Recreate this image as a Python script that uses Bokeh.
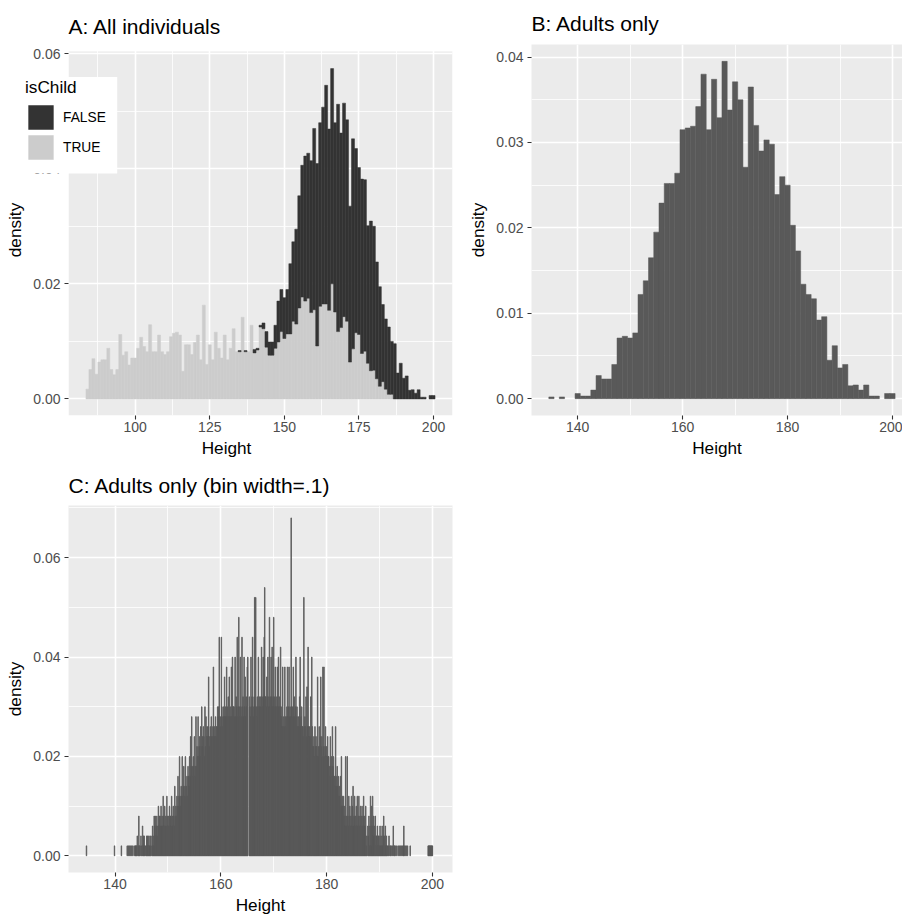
from bokeh.plotting import figure
from bokeh.models import (Range1d, FixedTicker, PrintfTickFormatter, Legend, LegendItem,
                          ColumnDataSource, BoxAnnotation)
from bokeh.layouts import column, row
from bokeh.embed import file_html
from bokeh.resources import INLINE

# ---------------- data ----------------
# Panel A / B : bin width 1 cm, bins centred on whole centimetres
child_heights = list(range(84, 187))
child_density = [
    0.0017, 0.0051, 0.0070, 0.0043, 0.0064, 0.0068, 0.0068, 0.0088, 0.0051, 0.0042,   # 84-93
    0.0051, 0.0112, 0.0076, 0.0082, 0.0059, 0.0071, 0.0071, 0.0088, 0.0107, 0.0091,   # 94-103
    0.0082, 0.0129, 0.0082, 0.0082, 0.0111, 0.0082, 0.0077, 0.0082, 0.0108, 0.0114,   # 104-113
    0.0116, 0.0111, 0.0048, 0.0094, 0.0094, 0.0077, 0.0098, 0.0111, 0.0068, 0.0163,   # 114-123
    0.0060, 0.0094, 0.0068, 0.0116, 0.0088, 0.0071, 0.0111, 0.0068, 0.0088, 0.0122,   # 124-133
    0.0082, 0.0082, 0.0142, 0.0082, 0.0082, 0.0128, 0.0080, 0.0085, 0.0125, 0.0122,   # 134-143
    0.0090, 0.0076, 0.0076, 0.0088, 0.0099, 0.0117, 0.0105, 0.0113, 0.0113, 0.0135,   # 144-153
    0.0130, 0.0158, 0.0177, 0.0170, 0.0175, 0.0150, 0.0155, 0.0092, 0.0161, 0.0165,   # 154-163
    0.0165, 0.0154, 0.0200, 0.0151, 0.0117, 0.0124, 0.0143, 0.0135, 0.0064, 0.0087,   # 164-173
    0.0115, 0.0112, 0.0079, 0.0083, 0.0062, 0.0049, 0.0050, 0.0035, 0.0022, 0.0030,   # 174-183
    0.0017, 0.0008, 0.0008,                                                           # 184-186
]
adult_heights = list(range(135, 201))
adult_density = [
    0.0002, 0.0000, 0.0002, 0.0000, 0.0000, 0.0006, 0.0003, 0.0003, 0.0010, 0.0027,   # 135-144
    0.0023, 0.0023, 0.0040, 0.0071, 0.0073, 0.0071, 0.0077, 0.0122, 0.0138, 0.0165,   # 145-154
    0.0195, 0.0229, 0.0252, 0.0252, 0.0264, 0.0315, 0.0317, 0.0319, 0.0342, 0.0380,   # 155-164
    0.0315, 0.0374, 0.0329, 0.0395, 0.0338, 0.0371, 0.0350, 0.0271, 0.0365, 0.0320,   # 165-174
    0.0290, 0.0303, 0.0298, 0.0239, 0.0260, 0.0250, 0.0203, 0.0173, 0.0134, 0.0122,   # 175-184
    0.0117, 0.0092, 0.0096, 0.0045, 0.0062, 0.0036, 0.0040, 0.0015, 0.0016, 0.0010,   # 185-194
    0.0016, 0.0003, 0.0003, 0.0000, 0.0006, 0.0006,                                   # 195-200
]

# Panel C : bin width 0.1 cm; one row per centimetre (h-0.5 ... h+0.4), counts of adults
fine_first_centre = 134.5
fine_bin_width = 0.1
fine_density_per_count = 0.002
fine_counts_by_cm = [
    [0, 1, 0, 0, 0, 0, 0, 0, 0, 0],            # 135
    [0, 0, 0, 0, 0, 0, 0, 0, 0, 0],            # 136
    [0, 0, 0, 0, 0, 0, 0, 0, 0, 0],            # 137
    [0, 0, 0, 0, 0, 0, 0, 0, 0, 0],            # 138
    [0, 0, 0, 0, 0, 0, 0, 0, 0, 0],            # 139
    [0, 0, 0, 0, 1, 0, 0, 0, 0, 0],            # 140
    [0, 0, 0, 0, 0, 0, 0, 1, 0, 0],            # 141
    [0, 0, 0, 0, 0, 0, 0, 0, 1, 0],            # 142
    [1, 0, 1, 0, 1, 0, 1, 0, 1, 0],            # 143
    [0, 1, 0, 1, 1, 1, 1, 2, 0, 1],            # 144
    [4, 1, 1, 0, 2, 1, 0, 3, 1, 2],            # 145
    [2, 1, 0, 1, 1, 2, 2, 1, 2, 1],            # 146
    [1, 2, 1, 2, 0, 1, 3, 2, 1, 4],            # 147
    [3, 4, 2, 3, 4, 2, 3, 5, 3, 4],            # 148
    [4, 3, 5, 3, 4, 3, 6, 4, 3, 5],            # 149
    [3, 4, 3, 6, 4, 3, 4, 3, 5, 4],            # 150
    [4, 3, 6, 4, 3, 5, 4, 3, 7, 4],            # 151
    [5, 4, 6, 5, 8, 5, 6, 10, 6, 5],           # 152
    [7, 6, 10, 6, 7, 9, 6, 7, 10, 6],          # 153
    [7, 8, 6, 9, 8, 7, 10, 8, 12, 9],          # 154
    [14, 9, 8, 10, 9, 12, 8, 9, 14, 9],        # 155
    [11, 10, 14, 10, 11, 12, 10, 13, 11, 15],  # 156
    [12, 11, 13, 12, 10, 15, 11, 14, 12, 13],  # 157
    [12, 13, 18, 12, 11, 13, 12, 14, 12, 12],  # 158
    [13, 19, 12, 13, 12, 14, 12, 13, 13, 15],  # 159
    [14, 15, 22, 14, 13, 14, 22, 15, 13, 14],  # 160
    [15, 14, 18, 14, 15, 14, 19, 15, 14, 16],  # 161
    [14, 18, 14, 15, 14, 19, 14, 20, 15, 15],  # 162
    [15, 14, 20, 14, 16, 15, 22, 14, 15, 24],  # 163
    [15, 14, 20, 15, 14, 22, 15, 16, 14, 20],  # 164
    [15, 18, 14, 16, 15, 19, 20, 0, 0, 16],    # 165
    [15, 14, 20, 15, 16, 22, 15, 14, 16, 26],  # 166
    [15, 26, 15, 14, 16, 15, 20, 15, 16, 15],  # 167
    [16, 15, 21, 16, 15, 20, 16, 22, 27, 16],  # 168
    [16, 15, 18, 16, 20, 15, 16, 24, 15, 16],  # 169
    [20, 16, 21, 15, 16, 24, 15, 16, 19, 15],  # 170
    [15, 16, 19, 15, 20, 15, 16, 15, 21, 15],  # 171
    [14, 13, 19, 13, 14, 13, 19, 14, 13, 14],  # 172
    [15, 19, 14, 15, 19, 14, 15, 14, 34, 15],  # 173
    [14, 15, 19, 14, 16, 14, 15, 20, 14, 15],  # 174
    [13, 14, 13, 14, 16, 20, 13, 14, 15, 13],  # 175
    [13, 12, 26, 13, 14, 13, 16, 12, 17, 13],  # 176
    [21, 13, 12, 13, 12, 16, 12, 20, 13, 11],  # 177
    [11, 12, 10, 13, 11, 12, 11, 10, 18, 10],  # 178
    [11, 13, 11, 12, 18, 11, 12, 10, 19, 11],  # 179
    [19, 10, 11, 13, 10, 11, 10, 12, 10, 10],  # 180
    [9, 8, 12, 9, 10, 8, 13, 9, 10, 8],        # 181
    [8, 7, 13, 8, 7, 9, 7, 8, 6, 7],           # 182
    [6, 8, 5, 10, 5, 6, 5, 6, 4, 5],           # 183
    [3, 10, 4, 3, 10, 4, 3, 6, 4, 5],          # 184
    [3, 4, 6, 3, 5, 7, 3, 4, 6, 3],            # 185
    [4, 5, 3, 6, 3, 4, 6, 3, 4, 5],            # 186
    [3, 4, 5, 3, 4, 6, 3, 4, 3, 5],            # 187
    [1, 2, 0, 3, 2, 4, 1, 3, 6, 1],            # 188
    [5, 3, 6, 2, 4, 3, 2, 4, 1, 2],            # 189
    [2, 3, 1, 2, 2, 1, 3, 1, 2, 1],            # 190
    [3, 1, 2, 4, 2, 1, 3, 1, 2, 1],            # 191
    [1, 0, 1, 2, 0, 1, 1, 0, 1, 0],            # 192
    [1, 3, 0, 1, 1, 0, 1, 0, 1, 0],            # 193
    [0, 1, 0, 1, 0, 1, 0, 1, 0, 1],            # 194
    [1, 3, 1, 0, 1, 0, 1, 0, 1, 0],            # 195
    [0, 0, 0, 1, 0, 0, 0, 0, 0, 0],            # 196
    [0, 0, 0, 0, 0, 0, 0, 0, 0, 0],            # 197
    [0, 0, 0, 0, 0, 0, 0, 0, 0, 0],            # 198
    [0, 0, 0, 0, 0, 0, 0, 1, 1, 1],            # 199
    [1, 1, 1, 1, 1, 1, 0, 0, 0, 0],            # 200
]

titles = ["A: All individuals", "B: Adults only", "C: Adults only (bin width=.1)"]
legend_title = "isChild"
legend_labels = ["FALSE", "TRUE"]
x_label = "Height"
y_label = "density"

# ---------------- styling ----------------
FONT = "Liberation Sans"
DARK = "#333333"
LIGHT = "#CCCCCC"
BAR = "#595959"
PANEL = "#EBEBEB"


def make_fig(w, h, xr, yr, left, right, top, bottom, bg=PANEL):
    p = figure(width=w, height=h, x_range=Range1d(*xr), y_range=Range1d(*yr),
               output_backend="svg", toolbar_location=None,
               min_border_left=left, min_border_right=right,
               min_border_top=top, min_border_bottom=bottom)
    p.background_fill_color = bg
    p.border_fill_color = "white"
    p.outline_line_color = None
    return p


def style_axes(p, title, xt, xm, yt, ym, title_offset=0, title_standoff=15):
    p.title.text = title
    p.title.text_font = FONT
    p.title.text_font_size = "21px"
    p.title.text_font_style = "normal"
    p.title.text_color = "black"
    p.title.align = "left"
    p.title.standoff = title_standoff
    p.title.offset = title_offset
    xtick = FixedTicker(ticks=xt, minor_ticks=xm)
    ytick = FixedTicker(ticks=yt, minor_ticks=ym)
    p.xaxis.ticker = xtick
    p.yaxis.ticker = ytick
    p.xgrid.ticker = xtick
    p.ygrid.ticker = ytick
    p.yaxis.formatter = PrintfTickFormatter(format="%.2f")
    for ax in (p.xaxis[0], p.yaxis[0]):
        ax.axis_line_color = None
        ax.major_tick_line_color = "#333333"
        ax.major_tick_line_width = 1.1
        ax.major_tick_out = 4
        ax.major_tick_in = 0
        ax.minor_tick_line_color = None
        ax.major_label_text_font = FONT
        ax.major_label_text_font_size = "14px"
        ax.major_label_text_color = "#4D4D4D"
        ax.axis_label_text_font = FONT
        ax.axis_label_text_font_size = "17.2px"
        ax.axis_label_text_font_style = "normal"
        ax.axis_label_text_color = "black"
    p.xaxis.axis_label = x_label
    p.yaxis.axis_label = y_label
    p.xaxis.major_label_standoff = 2
    p.xaxis.axis_label_standoff = 3
    p.yaxis.major_label_standoff = 4
    p.yaxis.axis_label_standoff = 5
    for g in (p.xgrid[0], p.ygrid[0]):
        g.grid_line_color = "white"
        g.grid_line_width = 1.6
        g.minor_grid_line_color = "white"
        g.minor_grid_line_width = 0.8


# ---------------- Panel A (stacked) ----------------
child_lookup = dict(zip(child_heights, child_density))
src_true = ColumnDataSource(dict(
    left=[hh - 0.5 for hh in child_heights],
    right=[hh + 0.5 for hh in child_heights],
    bottom=[0.0] * len(child_heights),
    top=child_density,
))
fa_l, fa_r, fa_b, fa_t = [], [], [], []
for hh, d in zip(adult_heights, adult_density):
    if d <= 0:
        continue
    base = child_lookup.get(hh, 0.0)
    fa_l.append(hh - 0.5)
    fa_r.append(hh + 0.5)
    fa_b.append(base)
    fa_t.append(base + d)
src_false = ColumnDataSource(dict(left=fa_l, right=fa_r, bottom=fa_b, top=fa_t))

A_X0, A_X1 = 77.65, 206.35          # panel limits (x)
A_Y0, A_Y1 = -0.00288, 0.0604       # panel limits (y)
A_VIEW_X0 = 54.86                    # canvas left edge (room for axis + legend)
A_VIEW_Y1 = 0.06159                  # a little room above the panel for the top tick label
pA = make_fig(465, 462, (A_VIEW_X0, A_X1), (A_Y0, A_VIEW_Y1), 0, 13, 36, 47, bg="white")
# grey panel only over the data limits; white covers outside it (hide grid there)
pA.add_layout(BoxAnnotation(left=A_X0, top=A_Y1, fill_color=PANEL, fill_alpha=1.0,
                            line_color=None, level="image"))
r_true = pA.quad(left="left", right="right", bottom="bottom", top="top", source=src_true,
                 fill_color=LIGHT, line_color=LIGHT, line_width=0.5)
r_false = pA.quad(left="left", right="right", bottom="bottom", top="top", source=src_false,
                  fill_color=DARK, line_color=DARK, line_width=0.5)
style_axes(pA, titles[0], [100, 125, 150, 175, 200], [87.5, 112.5, 137.5, 162.5, 187.5],
           [0, 0.02, 0.04, 0.06], [0.01, 0.03, 0.05], title_offset=68, title_standoff=13)
pA.add_layout(BoxAnnotation(right=A_X0, fill_color="white", fill_alpha=1.0,
                            line_color=None, level="underlay"))
pA.add_layout(BoxAnnotation(bottom=A_Y1, fill_color="white", fill_alpha=1.0,
                            line_color=None, level="underlay"))
pA.yaxis.fixed_location = A_X0

# white legend background box (overlaps the panel and the y-axis labels, as in the reference)
pA.add_layout(BoxAnnotation(left=59.9, right=93.97, bottom=0.03919, top=0.05593,
                            fill_color="white", fill_alpha=1.0, line_color=None,
                            level="annotation"))
legend = Legend(items=[LegendItem(label=legend_labels[0], renderers=[r_false]),
                       LegendItem(label=legend_labels[1], renderers=[r_true])],
                location=(25, 253), title=legend_title)
legend.title_text_font = FONT
legend.title_text_font_size = "17.2px"
legend.title_text_font_style = "normal"
legend.title_text_color = "black"
legend.title_standoff = 4
legend.label_text_font = FONT
legend.label_text_font_size = "13.75px"
legend.label_text_color = "black"
legend.glyph_width = 31
legend.glyph_height = 30
legend.spacing = -3
legend.label_standoff = 7
legend.label_width = 43
legend.padding = 10
legend.margin = 0
legend.border_line_color = None
legend.background_fill_color = "white"
legend.background_fill_alpha = 0.0
pA.add_layout(legend)

# ---------------- Panel B ----------------
b_l, b_r, b_t = [], [], []
for hh, d in zip(adult_heights, adult_density):
    if d <= 0:
        continue
    b_l.append(hh - 0.5)
    b_r.append(hh + 0.5)
    b_t.append(d)
src_b = ColumnDataSource(dict(left=b_l, right=b_r, bottom=[0.0] * len(b_l), top=b_t))
pB = make_fig(437, 462, (131.2, 201.91), (-0.001975, 0.041475), 63, 0, 43, 47)
pB.quad(left="left", right="right", bottom="bottom", top="top", source=src_b,
        fill_color=BAR, line_color=BAR, line_width=0.5)
style_axes(pB, titles[1], [140, 160, 180, 200], [150, 170, 190],
           [0, 0.01, 0.02, 0.03, 0.04], [0.005, 0.015, 0.025, 0.035], title_standoff=19)

# ---------------- Panel C ----------------
c_l, c_r, c_t = [], [], []
k = 0
for group in fine_counts_by_cm:
    for cnt in group:
        centre = fine_first_centre + k * fine_bin_width
        k += 1
        if cnt <= 0:
            continue
        c_l.append(centre - fine_bin_width / 2)
        c_r.append(centre + fine_bin_width / 2)
        c_t.append(cnt * fine_density_per_count)
src_c = ColumnDataSource(dict(left=c_l, right=c_r, bottom=[0.0] * len(c_l), top=c_t))
pC = make_fig(465, 455, (131.2, 203.8), (-0.00336, 0.0705), 68, 13, 43, 41)
pC.quad(left="left", right="right", bottom="bottom", top="top", source=src_c,
        fill_color=BAR, line_color=BAR, line_width=0.8)
style_axes(pC, titles[2], [140, 160, 180, 200], [150, 170, 190],
           [0, 0.02, 0.04, 0.06], [0.01, 0.03, 0.05, 0.07], title_standoff=17)

layout = column(row(pA, pB), pC)
open("out.html", "w").write(file_html(layout, INLINE))
